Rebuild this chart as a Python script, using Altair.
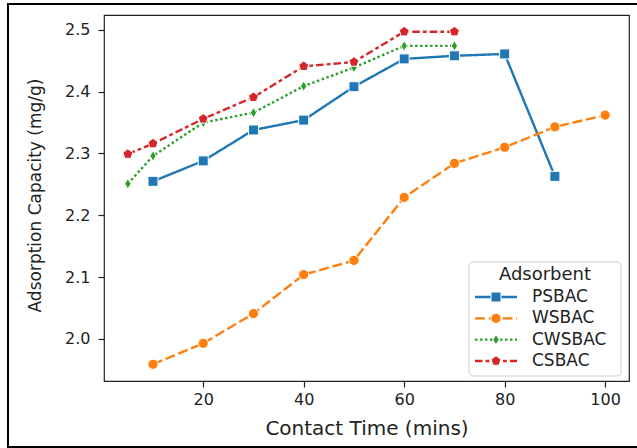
import altair as alt
import pandas as pd

names = ["PSBAC", "WSBAC", "CWSBAC", "CSBAC"]
colors = ["#1f77b4", "#ff7f0e", "#2ca02c", "#d62728"]

ps_x = [10, 20, 30, 40, 50, 60, 70, 80, 90]
ps_y = [2.255, 2.288, 2.338, 2.354, 2.408, 2.453, 2.458, 2.461, 2.263]
ws_x = [10, 20, 30, 40, 50, 60, 70, 80, 90, 100]
ws_y = [1.959, 1.993, 2.041, 2.104, 2.127, 2.229, 2.284, 2.310, 2.343, 2.362]
cw_x = [5, 10, 20, 30, 40, 50, 60, 70]
cw_y = [2.251, 2.296, 2.350, 2.366, 2.409, 2.439, 2.474, 2.474]
cs_x = [5, 10, 20, 30, 40, 50, 60, 70]
cs_y = [2.299, 2.316, 2.356, 2.391, 2.441, 2.448, 2.497, 2.497]

x_ticks = [20, 40, 60, 80, 100]
y_ticks = [2.0, 2.1, 2.2, 2.3, 2.4, 2.5]

rows = []
for i, (n, xs, ys) in enumerate(zip(names, [ps_x, ws_x, cw_x, cs_x], [ps_y, ws_y, cw_y, cs_y])):
    for xv, yv in zip(xs, ys):
        rows.append({"Adsorbent": n, "time": xv, "cap": yv, "order": i})
df = pd.DataFrame(rows)
leg_df = pd.DataFrame({"Adsorbent": names})
one_df = pd.DataFrame({"k": [0]})

FONT = "DejaVu Sans"
thin_diamond = "M0,-1L0.62,0L0,1L-0.62,0Z"
pentagon = "M0,-1L0.951,-0.309L0.588,0.809L-0.588,0.809L-0.951,-0.309Z"

color = alt.Color("Adsorbent:N", scale=alt.Scale(domain=names, range=colors), legend=None)
dash = alt.StrokeDash("Adsorbent:N", scale=alt.Scale(domain=names, range=[[1, 0], [10, 3.75], [2.5, 2.5], [7.5, 3.1, 3.75, 3.1]]), legend=None)
shape = alt.Shape("Adsorbent:N", scale=alt.Scale(domain=names, range=["square", "circle", thin_diamond, pentagon]), legend=None)
size = alt.Size("Adsorbent:N", scale=alt.Scale(domain=names, range=[100, 110, 150, 120]), legend=None)

xenc = alt.X("time:Q", scale=alt.Scale(domain=[0.25, 104.75], nice=False, zero=False),
             axis=alt.Axis(title="Contact Time (mins)", values=x_ticks, format="d",
                           titleY=47, titleBaseline="middle", titleFontSize=20, labelPadding=4))
yenc = alt.Y("cap:Q", scale=alt.Scale(domain=[1.932, 2.524], nice=False, zero=False),
             axis=alt.Axis(title="Adsorption Capacity (mg/g)", values=y_ticks, format=".1f",
                           titleX=-69, titleY=180, titleBaseline="middle", titleFontSize=17, labelPadding=8))

base = alt.Chart(df)
lines = base.mark_line(strokeWidth=2.4).encode(x=xenc, y=yenc, color=color, strokeDash=dash, detail="Adsorbent:N")
points = base.mark_point(filled=True, stroke="white", strokeWidth=1, opacity=1).encode(
    x=xenc, y=yenc, color=color, shape=shape, size=size, order="order:Q")
main = alt.layer(lines, points)

# legend box
leg_box = alt.Chart(one_df).mark_rect(fill="white", fillOpacity=0.85, stroke="#cccccc", strokeWidth=1, cornerRadius=4).encode(
    x=alt.value(365), x2=alt.value(517), y=alt.value(247), y2=alt.value(361))
leg_title = alt.Chart(one_df).mark_text(text="Adsorbent", font=FONT, fontSize=18, fontWeight="normal", color="#222",
                                        align="center", baseline="middle").encode(
    x=alt.value(441), y=alt.value(259.5))
ly = alt.Y("Adsorbent:N", scale=alt.Scale(type="point", domain=names, range=[282, 346], padding=0), axis=None)
leg_rule = alt.Chart(leg_df).mark_rule(strokeWidth=2.4).encode(
    x=alt.value(371), x2=alt.value(413), y=ly, color=color, strokeDash=dash)
leg_pt = alt.Chart(leg_df).mark_point(filled=True, stroke="white", strokeWidth=1, opacity=1).encode(
    x=alt.value(392), y=ly, color=color, shape=shape, size=size)
leg_txt = alt.Chart(leg_df).mark_text(font=FONT, fontSize=17, fontWeight="normal", color="#222", align="left", baseline="middle").encode(
    x=alt.value(428), y=ly, text="Adsorbent:N")
legend = alt.layer(leg_box, leg_title, leg_rule, leg_pt, leg_txt)

frame = alt.Chart(one_df).mark_rect(fill=None, stroke="black", strokeWidth=2).encode(
    x=alt.value(-96), x2=alt.value(540), y=alt.value(-11), y2=alt.value(432))

chart = alt.layer(main, legend, frame).resolve_scale(y="independent").properties(
    width=525, height=366,
    background="white",
    autosize=alt.AutoSizeParams(type="none"),
    padding={"left": 104, "top": 15, "right": 8, "bottom": 67},
).configure_view(stroke="#222", strokeWidth=1.2).configure_axis(
    domain=False, grid=False, tickColor="#222", tickSize=6, tickWidth=1.2,
    labelFont=FONT, labelFontSize=16, labelColor="#222",
    titleFont=FONT, titleColor="#222", titleFontWeight="normal",
)

chart.save("out.html", embed_options={"renderer": "svg", "actions": False})
